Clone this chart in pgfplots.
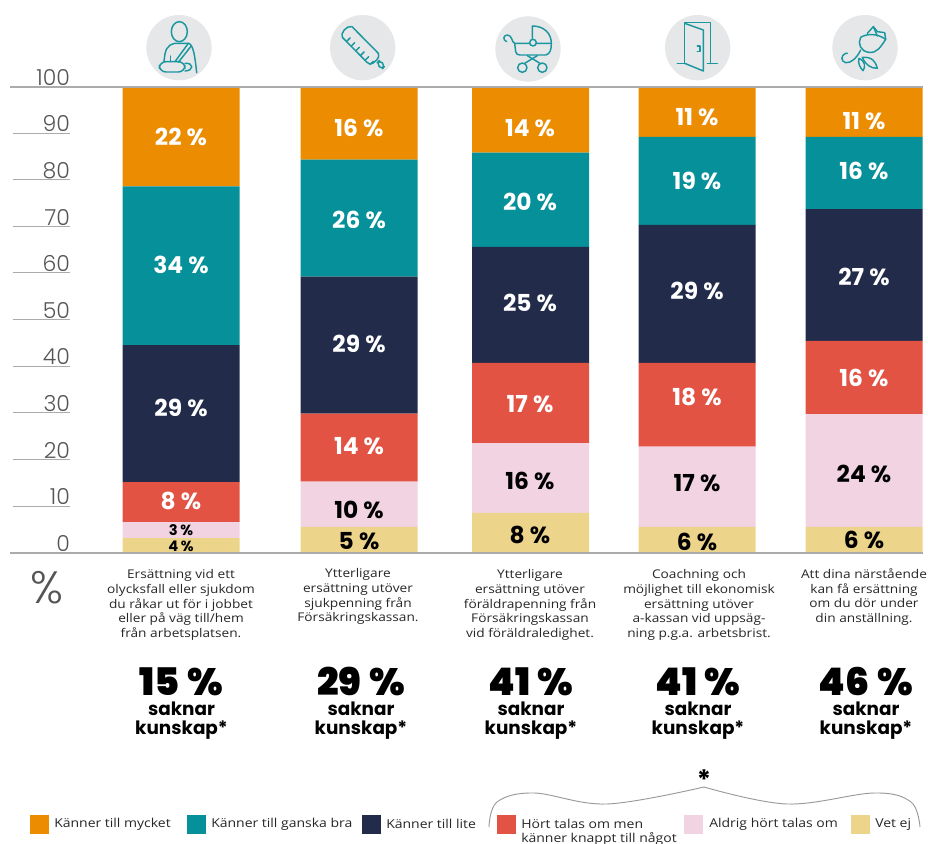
\documentclass[border=0pt]{standalone}
\usepackage{fontspec}
\usepackage{pgfplots}
\pgfplotsset{compat=1.18}
\setmainfont{Poppins}
\newfontfamily\bodyf{Open Sans}[FakeStretch=1.14]
\newfontfamily\popb{Poppins}[UprightFont=* Bold]
\newfontfamily\popk{Poppins}[UprightFont=* Black]
\newfontfamily\popl{Poppins}[UprightFont=* Light]
\definecolor{cor}{HTML}{EC8C00}
\definecolor{cte}{HTML}{069099}
\definecolor{cna}{HTML}{222C4A}
\definecolor{cre}{HTML}{E25344}
\definecolor{cpi}{HTML}{F1D3E2}
\definecolor{csa}{HTML}{EDD48B}
\definecolor{cic}{HTML}{1B97A0}
\definecolor{ccg}{HTML}{E6E7E9}
\definecolor{cax}{HTML}{ABABAB}
\definecolor{ctk}{HTML}{555555}
\newcommand\lab[4]{\node[text=#4,font=\popb\fontsize{17.5}{18}\selectfont] at (#1,#2) {#3\hspace{.22em}\%};}
\newcommand\desc[3]{\node[anchor=north,align=center,font=\bodyf\fontsize{9}{11}\selectfont,text=black!85] at (#1,#2) {#3};}
\newcommand\bignum[2]{\node[anchor=base,inner sep=0pt,font=\popk\fontsize{28.5}{30}\selectfont] at (#1,695) {#2\hspace{.2em}\%};
 \node[anchor=base,inner sep=0pt,font=\popb\fontsize{13.8}{15}\selectfont] at (#1,715) {saknar};
 \node[anchor=base,inner sep=0pt,font=\popb\fontsize{13.8}{15}\selectfont] at (#1,734) {kunskap*};}
\newcommand\leg[4]{\fill[#1] (#2,815) rectangle ++(18.5,18.5); \node[anchor=west,inner sep=0pt,font=\bodyf\fontsize{9.2}{11}\selectfont,text=black!85] at (#3,824) {#4};}
\begin{document}
\begin{tikzpicture}
\path[use as bounding box] (0,0) rectangle (696pt,632.25pt);
\begin{axis}[
  at={(7.5pt,217.5pt)}, anchor=south west,
  scale only axis, width=688.5pt, height=349.5pt,
  xmin=10, xmax=928, ymin=0, ymax=100,
  ybar stacked, bar width=87.75pt,
  clip=false,
  axis line style={draw=none}, tick style={draw=none},
  xtick=\empty,
  ytick={0,10,...,100},
  /pgf/number format/assume math mode=true,
  yticklabel style={anchor=south east, xshift=48.5pt, yshift=-2.3pt, text=ctk, font=\popl\fontsize{16.5}{17}\selectfont},
]
\addplot[fill=csa,draw=none] coordinates {(181,3.2) (359,5.6) (530.5,8.6) (697,5.6) (864,5.6)};
\addplot[fill=cpi,draw=none] coordinates {(181,3.4) (359,9.7) (530.5,15.0) (697,17.2) (864,24.2)};
\addplot[fill=cre,draw=none] coordinates {(181,8.6) (359,14.6) (530.5,17.2) (697,18.0) (864,15.7)};
\addplot[fill=cna,draw=none] coordinates {(181,29.4) (359,29.4) (530.5,24.9) (697,29.6) (864,28.3)};
\addplot[fill=cte,draw=none] coordinates {(181,34.1) (359,25.1) (530.5,20.2) (697,18.9) (864,15.5)};
\addplot[fill=cor,draw=none] coordinates {(181,21.3) (359,15.7) (530.5,14.2) (697,10.7) (864,10.7)};
\end{axis}
% icons in zoom coordinates
\begin{scope}[x=.25pt,y=-.25pt,shift={(0,632.25pt)}]
\foreach \cx/\cy in {537/143,1088/143}{\fill[ccg] (\cx,\cy) circle (98);}
\begin{scope}[draw=cic,line width=1.1pt,line join=round,line cap=round]
\draw (538,95) ellipse (24 and 30);
\draw (492,185) .. controls (495,150) and (500,135) .. (525,130) -- (565,130) .. controls (580,132) and (585,170) .. (590,218);
\draw (565,130) -- (525,185);
\draw (572,140) -- (535,187);
\draw (512,168) -- (512,185);
\draw[rounded corners=5pt] (478,185) -- (555,185) -- (555,216) -- (478,216) -- cycle;
\draw (555,190) .. controls (582,188) and (582,212) .. (555,213);
\draw (1056,80) -- (1135,160) .. controls (1138,165) and (1136,172) .. (1130,180) -- (1118,190) .. controls (1110,193) and (1105,192) .. (1100,186) -- (1027,112) .. controls (1020,100) and (1040,75) .. (1056,80);
\foreach \t in {0,1,2,3,4,5}{\draw ({1040+14*\t},{124+14*\t}) -- ++(10,-10);}
\draw[rounded corners=3pt] (1130,190) -- (1140,180) -- (1155,197) -- (1145,209) -- cycle;
\end{scope}
\end{scope}
\begin{scope}[x=.25pt,y=-.25pt,shift={(348pt,632.25pt)}]
\foreach \cx/\cy in {192/147,701/143,1203/143}{\fill[ccg] (\cx,\cy) circle (98);}
\begin{scope}[draw=cic,line width=1.1pt,line join=round,line cap=round]
\draw (128,125) .. controls (115,120) and (118,105) .. (130,105) .. controls (145,105) and (143,128) .. (152,130) -- (262,130);
\draw (152,130) -- (155,155) .. controls (157,162) and (160,165) .. (168,165) -- (245,165) .. controls (258,162) and (262,150) .. (262,130);
\draw (205,115) -- (205,78) .. controls (240,78) and (262,100) .. (262,130);
\draw[fill=ccg] (207,128) circle (10);
\draw (190,167) -- (228,190);
\draw (220,167) -- (182,190);
\draw (175,203) circle (14);
\draw (235,203) circle (14);
\draw (662,188) -- (662,68) -- (740,68) -- (740,190);
\draw (640,190) -- (665,190);
\draw (730,190) -- (760,190);
\draw (662,70) -- (718,90) -- (718,213) -- (662,190);
\draw (700,138) -- (708,138) -- (708,154) -- (700,154);
\draw (1190,112) .. controls (1210,100) and (1240,100) .. (1265,118) .. controls (1250,140) and (1240,160) .. (1215,157) .. controls (1190,155) and (1180,130) .. (1190,112);
\draw (1210,100) -- (1228,80) -- (1240,95) -- (1262,98) -- (1265,118);
\draw (1228,80) -- (1240,108);
\draw (1190,150) .. controls (1178,175) and (1160,190) .. (1145,188) .. controls (1130,185) and (1130,165) .. (1145,160) -- (1150,160);
\draw (1185,175) .. controls (1180,190) and (1190,205) .. (1197,212) .. controls (1205,200) and (1205,185) .. (1185,175);
\draw (1195,172) .. controls (1225,170) and (1235,185) .. (1240,205) .. controls (1220,205) and (1205,195) .. (1195,172);
\end{scope}
\end{scope}
% everything else in pixel coordinates
\begin{scope}[x=.75pt,y=-.75pt,shift={(0,632.25pt)}]
\foreach \y in {506,459,412,366,319,272,226,179,133}{\draw[cax,line width=.7pt] (13,\y) -- (70,\y);}
\draw[cax,line width=1.4pt] (10,87) -- (923,87);
\draw[cax,line width=1.4pt] (10,553) -- (923,553);
\node[text=ctk,font=\popl\fontsize{34}{36}\selectfont] at (47,588) {\%};
\lab{181}{137}{22}{white}\lab{181}{265}{34}{white}\lab{181}{408}{29}{white}\lab{181}{501}{8}{white}
\node[font=\popb\fontsize{11}{12}\selectfont] at (181,530) {3\,\%};
\node[font=\popb\fontsize{11}{12}\selectfont] at (181,546) {4\,\%};
\lab{359}{128}{16}{white}\lab{359}{220}{26}{white}\lab{359}{344}{29}{white}\lab{359}{446}{14}{white}\lab{359}{510}{10}{black}\lab{359}{541}{5}{black}
\lab{530}{128}{14}{white}\lab{530}{202}{20}{white}\lab{530}{303}{25}{white}\lab{530}{404}{17}{white}\lab{530}{481}{16}{black}\lab{530}{535}{8}{black}
\lab{697}{117}{11}{white}\lab{697}{181}{19}{white}\lab{697}{291}{29}{white}\lab{697}{397}{18}{white}\lab{697}{483}{17}{black}\lab{697}{542}{6}{black}
\lab{864}{121}{11}{white}\lab{864}{171}{16}{white}\lab{864}{277}{27}{white}\lab{864}{378}{16}{white}\lab{864}{474}{24}{black}\lab{864}{540}{6}{black}
\desc{181}{565}{Ersättning vid ett\\olycksfall eller sjukdom\\du råkar ut för i jobbet\\eller på väg till/hem\\från arbetsplatsen.}
\desc{358}{564}{Ytterligare\\ersättning utöver\\sjukpenning från\\Försäkringskassan.}
\desc{530}{565}{Ytterligare\\ersättning utöver\\föräldrapenning från\\Försäkringskassan\\vid föräldraledighet.}
\desc{699}{565}{Coachning och\\möjlighet till ekonomisk\\ersättning utöver\\a-kassan vid uppsäg-\\ning p.g.a. arbetsbrist.}
\desc{864}{564}{Att dina närstående\\kan få ersättning\\om du dör under\\din anställning.}
\bignum{181.5}{15}\bignum{361}{29}\bignum{531}{41}\bignum{698}{41}\bignum{866}{46}
\leg{cor}{30}{54}{Känner till mycket}
\leg{cte}{187}{211}{Känner till ganska bra}
\leg{cna}{362}{386}{Känner till lite}
\leg{cpi}{684}{709}{Aldrig hört talas om}
\leg{csa}{851}{875}{Vet ej}
\fill[cre] (497,815) rectangle ++(18.5,18.5);
\node[anchor=west,inner sep=0pt,font=\bodyf\fontsize{9.2}{11}\selectfont,text=black!85] at (521,824) {Hört talas om men};
\node[anchor=west,inner sep=0pt,font=\bodyf\fontsize{9.2}{11}\selectfont,text=black!85] at (521,839) {känner knappt till något};
\draw[gray!80,line width=.7pt] plot[smooth,tension=.6] coordinates {(489,827) (497,802) (534,793) (607,804) (704,787)};
\draw[gray!80,line width=.7pt] plot[smooth,tension=.6] coordinates {(704,787) (787,804) (874,793) (911,802) (920,827)};
\node[font=\popb\fontsize{20}{22}\selectfont] at (704,780) {*};
\end{scope}
\end{tikzpicture}
\end{document}
